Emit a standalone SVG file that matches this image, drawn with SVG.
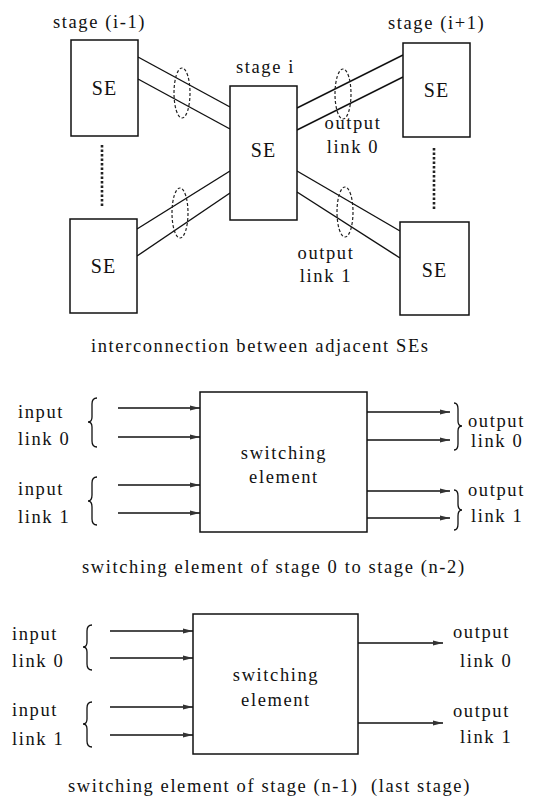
<svg xmlns="http://www.w3.org/2000/svg" width="547" height="805" viewBox="0 0 547 805">
<style>
text{font-family:"Liberation Serif","Times New Roman",serif;font-size:18.5px;letter-spacing:1.6px;fill:#111}
.se{font-size:20px;letter-spacing:1px;text-anchor:middle}
.mid{text-anchor:middle}
.box{fill:#fff;stroke:#111;stroke-width:1.5}
.ln{stroke:#111;stroke-width:1.4;fill:none}
.ell{fill:none;stroke:#222;stroke-width:1.2;stroke-dasharray:3 2}
.dots{stroke:#222;stroke-width:2.6;stroke-dasharray:2.5 2}
.arr{stroke:#111;stroke-width:1.4;fill:none;marker-end:url(#ah)}
.br{stroke:#111;stroke-width:1.3;fill:none}
</style>
<defs>
<marker id="ah" viewBox="0 0 10 6" refX="10" refY="3" markerWidth="10" markerHeight="6" markerUnits="userSpaceOnUse" orient="auto">
<path d="M0,0.5 L10,3 L0,5.5 Z" fill="#333"/>
</marker>
</defs>

<g id="connectors">
<line class="ln" x1="138" y1="57" x2="230" y2="107"/>
<line class="ln" x1="138" y1="79" x2="230" y2="129"/>
<line class="ln" x1="297" y1="108" x2="403" y2="55"/>
<line class="ln" x1="297" y1="130" x2="403" y2="77"/>
<line class="ln" x1="137" y1="229" x2="230" y2="171"/>
<line class="ln" x1="137" y1="256" x2="230" y2="193"/>
<line class="ln" x1="297" y1="171" x2="400" y2="231"/>
<line class="ln" x1="297" y1="192" x2="400" y2="258"/>
<ellipse class="ell" cx="182" cy="93" rx="8" ry="25"/>
<ellipse class="ell" cx="343" cy="94" rx="8" ry="25"/>
<ellipse class="ell" cx="180" cy="213" rx="8" ry="25"/>
<ellipse class="ell" cx="345" cy="212" rx="8" ry="25"/>
<line class="dots" x1="102" y1="145" x2="102" y2="208"/>
<line class="dots" x1="434" y1="148" x2="434" y2="211"/>

<line class="arr" x1="118" y1="408" x2="200" y2="408"/>
<line class="arr" x1="118" y1="437" x2="200" y2="437"/>
<line class="arr" x1="118" y1="485" x2="200" y2="485"/>
<line class="arr" x1="118" y1="513" x2="200" y2="513"/>
<line class="arr" x1="367" y1="412" x2="450" y2="412"/>
<line class="arr" x1="367" y1="440" x2="450" y2="440"/>
<line class="arr" x1="367" y1="491" x2="450" y2="491"/>
<line class="arr" x1="367" y1="518" x2="450" y2="518"/>

<line class="arr" x1="110" y1="631" x2="193" y2="631"/>
<line class="arr" x1="110" y1="658" x2="193" y2="658"/>
<line class="arr" x1="110" y1="707" x2="193" y2="707"/>
<line class="arr" x1="110" y1="735" x2="193" y2="735"/>
<line class="arr" x1="358" y1="643" x2="443" y2="643"/>
<line class="arr" x1="358" y1="723" x2="443" y2="723"/>
</g>

<g id="se-left-top">
<rect class="box" x="71" y="40" width="67" height="96"/>
<text class="se" x="104.5" y="95">SE</text>
<text x="53" y="28">stage (i-1)</text>
</g>
<g id="se-left-bottom">
<rect class="box" x="70" y="219" width="67" height="94"/>
<text class="se" x="103.5" y="273">SE</text>
</g>
<g id="se-center">
<rect class="box" x="230" y="86" width="67" height="134"/>
<text class="se" x="263.5" y="157">SE</text>
<text x="236" y="73">stage i</text>
</g>
<g id="se-right-top">
<rect class="box" x="403" y="43" width="67" height="94"/>
<text class="se" x="436.5" y="97">SE</text>
<text x="388" y="29">stage (i+1)</text>
</g>
<g id="se-right-bottom">
<rect class="box" x="400" y="222" width="69" height="93"/>
<text class="se" x="434.5" y="277">SE</text>
</g>
<g id="top-labels">
<text class="mid" x="353" y="129">output</text>
<text class="mid" x="353" y="153">link 0</text>
<text class="mid" x="326" y="259">output</text>
<text class="mid" x="326" y="282">link 1</text>
<text x="91" y="352">interconnection between adjacent SEs</text>
</g>

<g id="switch-mid">
<rect class="box" x="200" y="392" width="167" height="140"/>
<text class="mid" x="284" y="459">switching</text>
<text class="mid" x="284" y="483">element</text>
</g>
<g id="mid-labels">
<text x="18" y="418">input</text>
<text x="18" y="445">link 0</text>
<text x="18" y="495">input</text>
<text x="18" y="523">link 1</text>
<path class="br" d="M97,398 Q92,398 92,404 L92,417 Q92,422 88,422 Q92,422 92,427 L92,441 Q92,447 97,447"/>
<path class="br" d="M97,477 Q92,477 92,483 L92,495 Q92,501 88,501 Q92,501 92,507 L92,519 Q92,525 97,525"/>
<path class="br" d="M454,403 Q458,403 458,409 L458,421 Q458,426 462,426 Q458,426 458,431 L458,444 Q458,450 454,450"/>
<path class="br" d="M454,490 Q458,490 458,496 L458,504 Q458,510 462,510 Q458,510 458,516 L458,524 Q458,530 454,530"/>
<text x="468" y="427">output</text>
<text x="471" y="447">link 0</text>
<text x="468" y="496">output</text>
<text x="471" y="522">link 1</text>
<text x="82" y="573">switching element of stage 0 to stage (n-2)</text>
</g>

<g id="switch-last">
<rect class="box" x="193" y="614" width="165" height="140"/>
<text class="mid" x="276" y="681">switching</text>
<text class="mid" x="276" y="706">element</text>
</g>
<g id="last-labels">
<text x="12" y="640">input</text>
<text x="12" y="667">link 0</text>
<text x="12" y="716">input</text>
<text x="12" y="745">link 1</text>
<path class="br" d="M92,625 Q87,625 87,631 L87,642 Q87,647 83,647 Q87,647 87,652 L87,664 Q87,670 92,670"/>
<path class="br" d="M92,702 Q87,702 87,708 L87,719 Q87,724 83,724 Q87,724 87,729 L87,741 Q87,747 92,747"/>
<text x="453" y="638">output</text>
<text x="460" y="667">link 0</text>
<text x="453" y="717">output</text>
<text x="460" y="743">link 1</text>
<text x="68" y="792">switching element of stage (n-1) &#160;(last stage)</text>
</g>
</svg>
